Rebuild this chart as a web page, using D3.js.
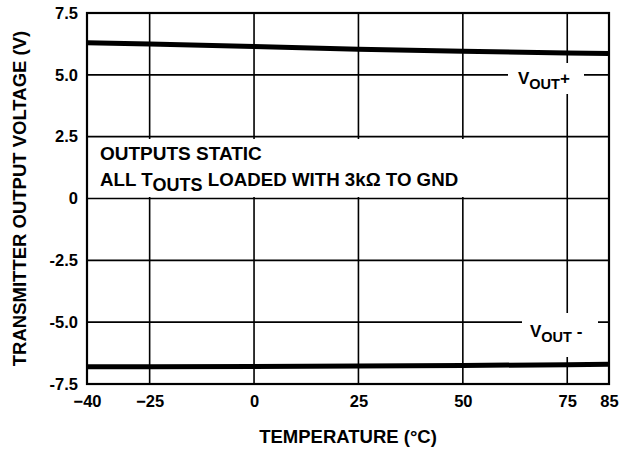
<!DOCTYPE html>
<html><head><meta charset="utf-8">
<script src="https://cdn.jsdelivr.net/npm/d3@7"></script>
<style>body{margin:0;background:#fff}svg{display:block}text{font-family:"Liberation Sans",Arial,Helvetica,sans-serif;font-weight:bold;fill:#000}</style>
</head><body><svg id="c" width="630" height="450"></svg>
<script>
const temps = [-40, -25, 0, 25, 50, 75, 85];
const voutPlus = [6.30, 6.25, 6.15, 6.03, 5.95, 5.88, 5.86];
const voutMinus = [-6.80, -6.80, -6.79, -6.77, -6.75, -6.72, -6.70];
const xTicks = [-40, -25, 0, 25, 50, 75, 85];
const yTicks = [7.5, 5.0, 2.5, 0, -2.5, -5.0, -7.5];
const yTickLabels = ["7.5", "5.0", "2.5", "0", "-2.5", "-5.0", "-7.5"];

const svg = d3.select("#c");
const L = 87, R = 609, T = 13, B = 384;
const x = d3.scaleLinear().domain([-40, 85]).range([L, R]);
const y = d3.scaleLinear().domain([-7.5, 7.5]).range([B, T]);

// grid
const g = svg.append("g");
g.selectAll("line.v").data(xTicks.filter(t => t > -40 && t < 85)).join("line")
  .attr("x1", d => x(d)).attr("x2", d => x(d)).attr("y1", T).attr("y2", B)
  .attr("stroke", "#000").attr("stroke-width", 1.6);
g.selectAll("line.h").data(yTicks.filter(t => t > -7.5 && t < 7.5)).join("line")
  .attr("x1", L).attr("x2", R).attr("y1", d => y(d)).attr("y2", d => y(d))
  .attr("stroke", "#000").attr("stroke-width", 1.6);

// axes
const xAxis = d3.axisBottom(x).tickValues(xTicks).tickSize(0).tickPadding(11).tickFormat(d3.format("d"));
const yAxis = d3.axisLeft(y).tickValues(yTicks).tickSize(0).tickPadding(9).tickFormat((d, i) => yTickLabels[i]);
const gx = svg.append("g").attr("transform", `translate(0,${B})`).call(xAxis);
const gy = svg.append("g").attr("transform", `translate(${L},0)`).call(yAxis);
[gx, gy].forEach(a => { a.select(".domain").remove(); a.selectAll("text").attr("font-size", 16.5).attr("font-family", null); });

// white boxes behind annotations
svg.append("rect").attr("x", L + 1).attr("y", 139).attr("width", 382).attr("height", 58).attr("fill", "#fff");
svg.append("rect").attr("x", 508).attr("y", 63).attr("width", 76).attr("height", 31).attr("fill", "#fff");
svg.append("rect").attr("x", 522).attr("y", 313).attr("width", 76).attr("height", 44).attr("fill", "#fff");

// border
svg.append("rect").attr("x", L).attr("y", T).attr("width", R - L).attr("height", B - T)
  .attr("fill", "none").attr("stroke", "#000").attr("stroke-width", 2.2);

// data lines
const line = d3.line().x((d, i) => x(temps[i])).y(d => y(d));
[voutPlus, voutMinus].forEach(s => {
  svg.append("path").datum(s).attr("d", line).attr("fill", "none").attr("stroke", "#000").attr("stroke-width", 5);
});

// labels
const t1 = svg.append("text").attr("x", 518).attr("y", 84).attr("font-size", 17);
t1.append("tspan").text("V");
t1.append("tspan").attr("dy", 5).attr("font-size", 14.5).text("OUT");
t1.append("tspan").attr("dy", -5).text("+");

const t2 = svg.append("text").attr("x", 530).attr("y", 337).attr("font-size", 17);
t2.append("tspan").text("V");
t2.append("tspan").attr("dy", 5).attr("font-size", 14.5).text("OUT");
t2.append("tspan").attr("dy", -5).text(" -");

svg.append("text").attr("x", 100).attr("y", 159.5).attr("font-size", 19).text("OUTPUTS STATIC");
const t3 = svg.append("text").attr("x", 100).attr("y", 185.5).attr("font-size", 18.7);
t3.append("tspan").text("ALL T");
t3.append("tspan").attr("dy", 5).attr("font-size", 18).text("OUTS");
t3.append("tspan").attr("dy", -5).text(" LOADED WITH 3k\u03A9 TO GND");

// titles
svg.append("text").attr("x", (L + R) / 2).attr("y", 443).attr("text-anchor", "middle").attr("font-size", 18.5).text("TEMPERATURE (\u00B0C)");
svg.append("text").attr("transform", `translate(26,${(T + B) / 2}) rotate(-90)`).attr("text-anchor", "middle").attr("font-size", 18.5).text("TRANSMITTER OUTPUT VOLTAGE (V)");
</script></body></html>
